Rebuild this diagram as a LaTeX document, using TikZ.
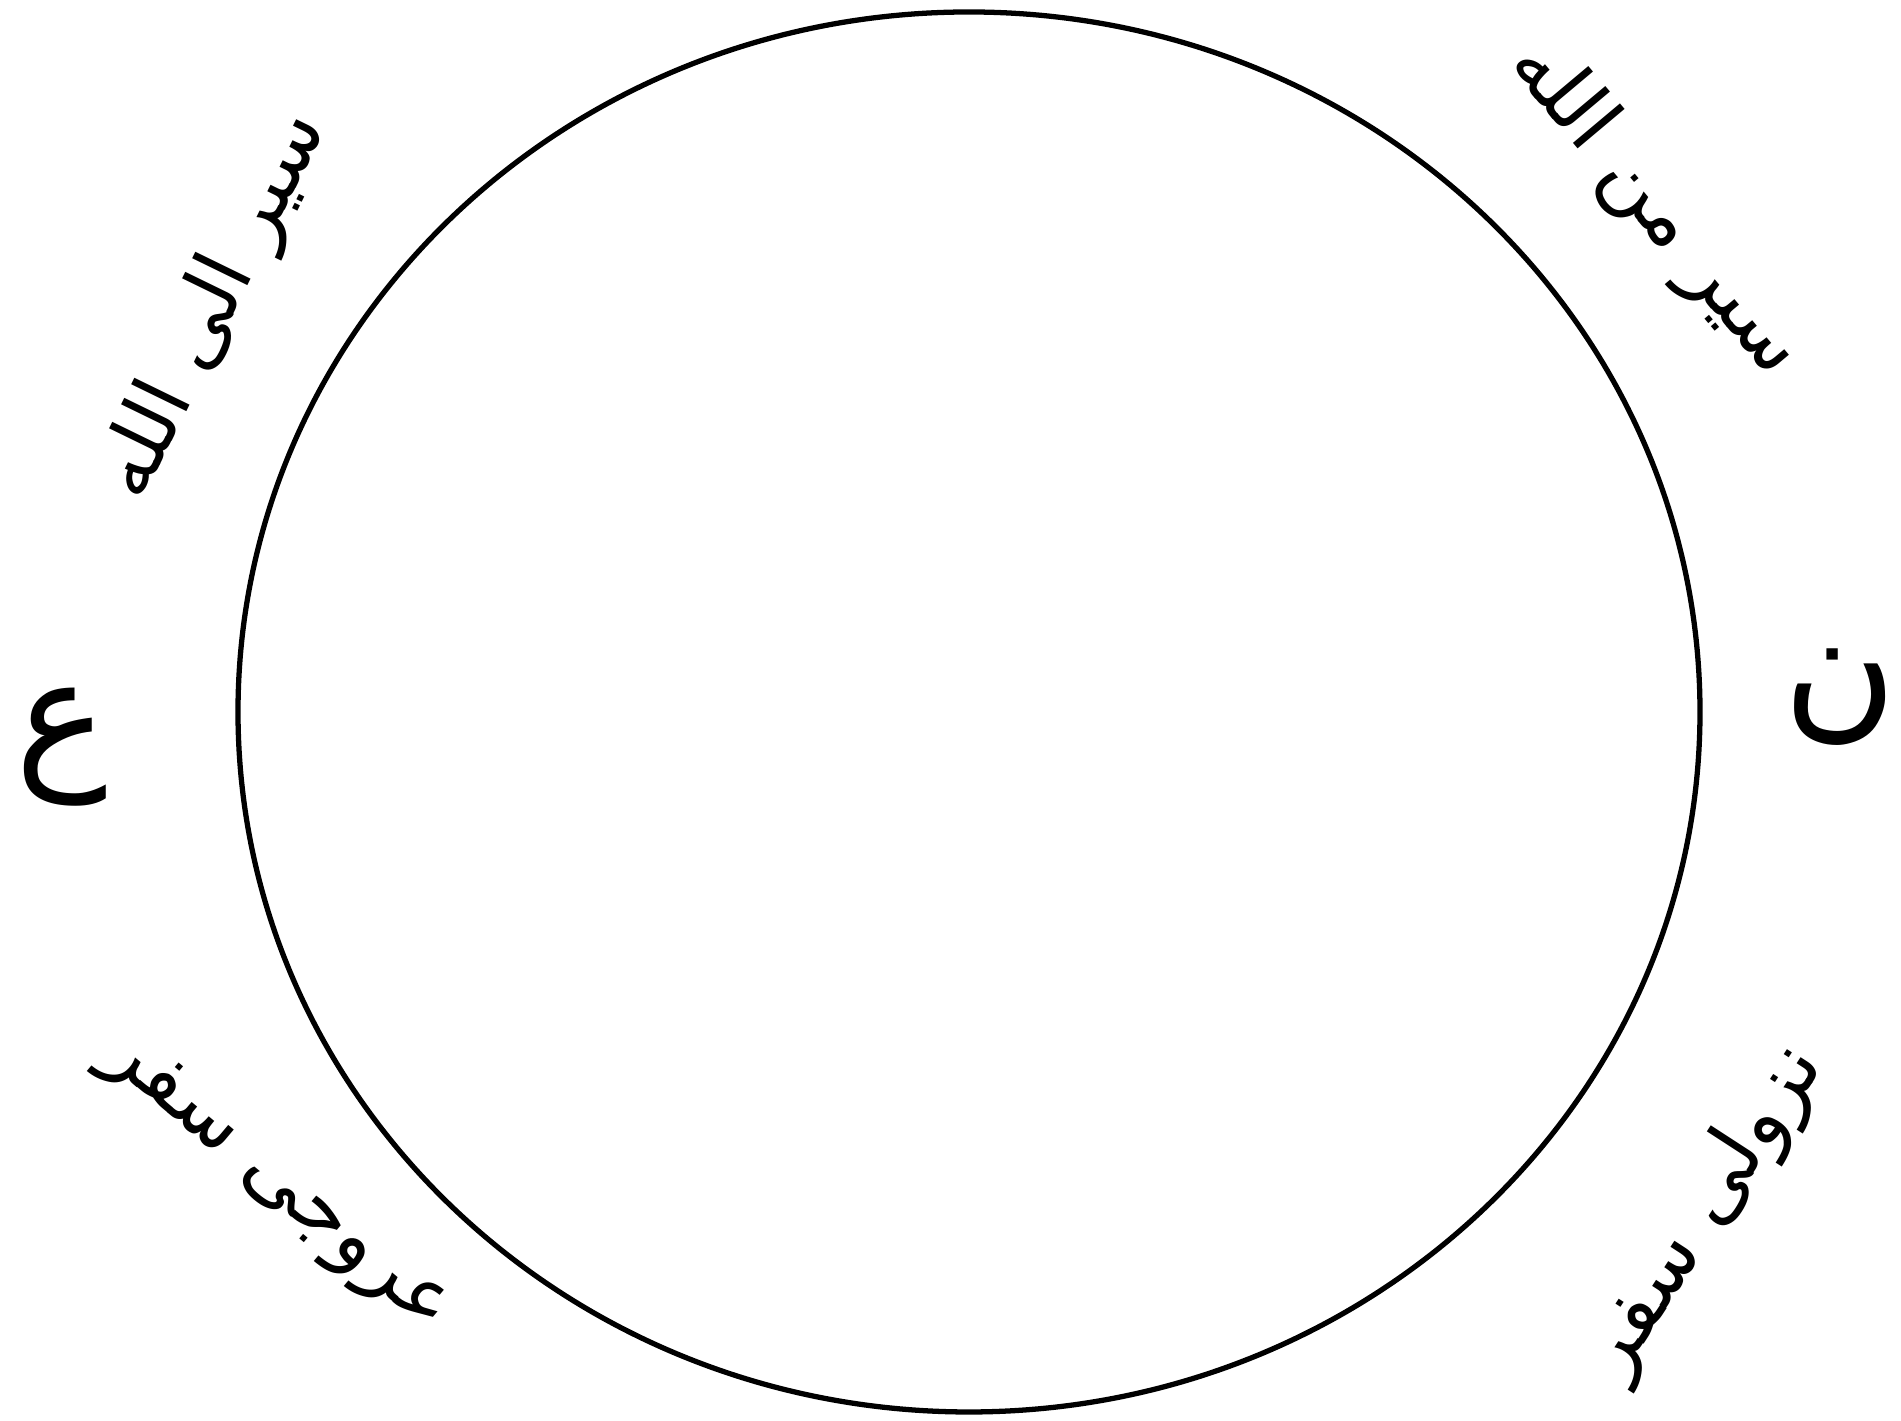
\documentclass[tikz,border=0pt]{standalone}
\usepackage{fontspec}
\usepackage{tikz}
\usetikzlibrary{positioning}
\TeXXeTstate=1
\newfontfamily\arabicfont[Script=Arabic]{DejaVu Sans}

\tikzset{
  word/.style={inner sep=0pt, font=\arabicfont\fontsize{23}{25}\selectfont},
  letter/.style={inner sep=0pt, font=\arabicfont\fontsize{44}{46}\selectfont}
}

\begin{document}
\begin{tikzpicture}[line width=1.5pt]

    \useasboundingbox (0,0) rectangle (19.01,14.21);

    \draw (9.69,7.09) ellipse [x radius=7.31, y radius=7.00];

    \node[word, rotate=-50] (sirmin) at (16.55,12.12) {\beginR سیر من الله\endR};
    \node[word, rotate=64] (sirila) at (2.15,11.15) {\beginR سیر الی الله\endR};
    \node[word, rotate=-40] (uruj) at (2.75,2.35) {\beginR عروجی سفر\endR};
    \node[word, rotate=57] (nuzul) at (17.05,2.10) {\beginR نزولی سفر\endR};

    \node[letter] (ain) at (0.62,6.74) {\beginR ع\endR};
    \node[letter] (nun) at (18.40,7.24) {\beginR ن\endR};

  \end{tikzpicture}
\end{document}
